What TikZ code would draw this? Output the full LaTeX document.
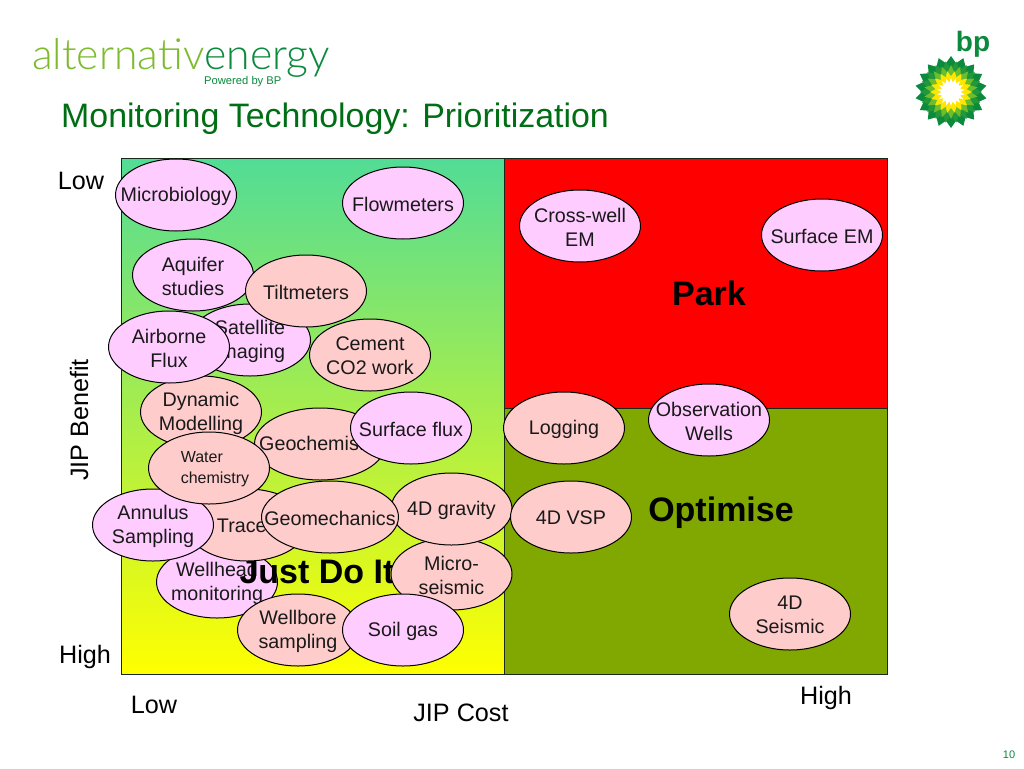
\documentclass[tikz,border=0pt]{standalone}
\usepackage{fontspec}
\setmainfont{Liberation Sans}
\newfontfamily\logofont{Lato Light}
\usetikzlibrary{shapes.geometric}
\definecolor{lilac}{HTML}{FFCCFF}
\definecolor{salmon}{HTML}{FFCCCC}
\definecolor{olive}{HTML}{80A800}
\definecolor{titlegreen}{HTML}{006E14}
\definecolor{bpdark}{HTML}{0B8A3E}
\definecolor{bpmid}{HTML}{6CBE2C}
\definecolor{bpyellow}{HTML}{FFE600}
\definecolor{logolight}{HTML}{7DBB2E}
\definecolor{edgecol}{HTML}{1A2A1A}
\definecolor{topgreen}{HTML}{52DC96}
\tikzset{
  bubble/.style={ellipse,draw=black,line width=1pt,minimum width=121pt,minimum height=72pt,inner sep=0pt},
  bubbletext/.style={inner sep=0pt,align=center,yshift=-1pt,text=black!90,font=\fontsize{19.7}{24}\selectfont},
  axislabel/.style={inner sep=0pt,text=black,font=\fontsize{25.2}{28}\selectfont},
  zonelabel/.style={inner sep=0pt,text=black,font=\fontsize{34}{38}\selectfont\bfseries},
  quad/.style={draw=edgecol,line width=1pt}
}
\newcommand{\bub}[6][121]{%
  \node[bubble,fill=#5,minimum width=#1pt] (#2) at (#3,#4) {};
  \node[bubbletext] (#2-t) at (#2) {#6};
}
\begin{document}
\begin{tikzpicture}[x=1pt,y=-1pt]
\useasboundingbox (0,0) rectangle (1024,768);
\fill[white] (0,0) rectangle (1024,768);

% logo
\node[anchor=base west,inner sep=0pt,font=\fontsize{42.7}{50}\logofont] (logo) at (32,69) {\textcolor{logolight}{alternativ}\textcolor{bpdark}{energy}};
\node[anchor=base west,inner sep=0pt,text=bpdark,font=\fontsize{11.2}{12}\selectfont] (powered) at (204,84) {Powered by BP};
\node[anchor=base west,inner sep=0pt,text=titlegreen,font=\fontsize{33.9}{38}\selectfont] (title) at (61,127) {Monitoring Technology: Prioritization};

% bp mark
\node[inner sep=0pt,text=bpdark,font=\fontsize{28}{32}\selectfont\bfseries] (bp) at (973,44) {bp};
\foreach \a in {0,20,...,340}{
  \fill[bpdark,rotate around={\a:(951,92)}] (951,56) -- (958,66) -- (951,84) -- (944,66) -- cycle;
}
\foreach \a in {10,30,...,350}{
  \fill[bpdark!75!bpmid,rotate around={\a:(951,92)}] (951,61) -- (956,70) -- (951,86) -- (946,70) -- cycle;
}
\foreach \a in {0,20,...,340}{
  \fill[bpmid,rotate around={\a:(951,92)}] (951,65) -- (955,74) -- (951,88) -- (947,74) -- cycle;
}
\foreach \a in {10,30,...,350}{
  \fill[bpyellow,rotate around={\a:(951,92)}] (951,71) -- (954.5,78) -- (951,90) -- (947.5,78) -- cycle;
}
\foreach \a in {0,20,...,340}{
  \fill[white,rotate around={\a:(951,92)}] (951,78) -- (952.8,83) -- (951,92) -- (949.2,83) -- cycle;
}
\fill[white] (951,92) circle (10);

% quadrants
\shade[top color=topgreen,bottom color=yellow] (121,158) rectangle (504,674);
\draw[quad] (121,158) rectangle (504,674);
\fill[red] (504,158) rectangle (887.5,408);
\draw[quad] (504,158) rectangle (887.5,408);
\fill[olive] (504,408) rectangle (887.5,674);
\draw[quad] (504,408) rectangle (887.5,674);

% axis labels
\node[axislabel] (lowy) at (81,181) {Low};
\node[axislabel] (highy) at (85,657) {High};
\node[axislabel,rotate=90] (benefit) at (79,420) {JIP Benefit};
\node[axislabel] (lowx) at (154,705) {Low};
\node[axislabel] (cost) at (461,713) {JIP Cost};
\node[axislabel] (highx) at (826,698) {High};

% zones
\node[zonelabel] (park) at (709,293) {Park};
\node[zonelabel] (optimise) at (721,513) {Optimise};

% bubbles, back to front
\bub{flow}{403}{203}{lilac}{Flowmeters}
\bub{cross}{580}{226}{lilac}{Cross-well\\EM}
\bub{surfem}{822}{235}{lilac}{Surface EM}
\bub{sat}{250}{340}{lilac}{Satellite\\Imaging}
\bub{aquifer}{193}{275}{lilac}{Aquifer\\studies}
\bub{tilt}{306}{291}{salmon}{Tiltmeters}
\bub{micro}{176}{195}{lilac}{Microbiology}
\bub{cement}{370}{355}{salmon}{Cement\\CO2 work}
\bub{dyn}{201}{412}{salmon}{Dynamic\\Modelling}
\bub{air}{169}{347}{lilac}{Airborne\\Flux}
\bub[131]{geochem}{320}{444}{salmon}{Geochemistry}
\bub{sflux}{411}{428}{lilac}{Surface flux}
\bub{wellhead}{217}{582}{lilac}{Wellhead\\monitoring}
\node[zonelabel] (justdoit) at (317,572) {Just Do It};
\bub{mseis}{451.5}{574}{salmon}{Micro-\\seismic}
\bub{gravity}{451.5}{509}{salmon}{4D gravity}
\bub{tracers}{247}{525}{salmon}{\hspace*{6pt}Tracers}
\bub{annulus}{153}{525}{lilac}{Annulus\\Sampling}
\node[bubble,fill=salmon] (water) at (209,468) {};
\node[bubbletext,align=left,font=\fontsize{16}{21}\selectfont] (water-t) at (215,468) {Water\\chemistry};
\bub[137]{geomech}{330}{517}{salmon}{Geomechanics}
\bub{wellbore}{298}{630}{salmon}{Wellbore\\sampling}
\bub{soil}{403}{630}{lilac}{Soil gas}
\bub{logging}{564}{428}{salmon}{Logging}
\bub{obs}{709}{420}{lilac}{Observation\\Wells}
\bub{vsp}{571}{517}{salmon}{4D VSP}
\bub{seis4}{790}{614}{salmon}{4D\\Seismic}

\node[inner sep=0pt,text=bpdark,font=\fontsize{11}{12}\selectfont] (pagenum) at (1009,755) {10};
\end{tikzpicture}
\end{document}
